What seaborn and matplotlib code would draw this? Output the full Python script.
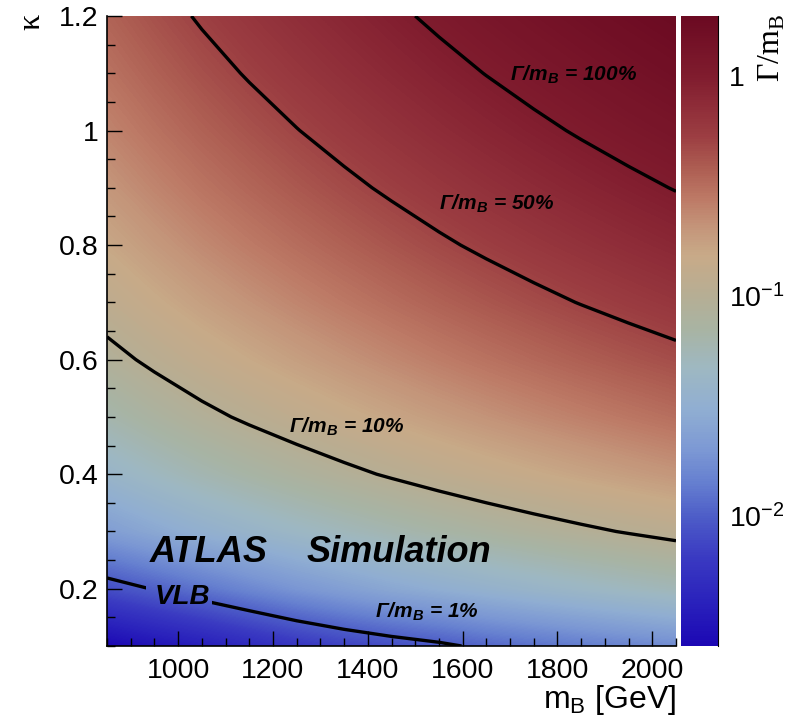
import matplotlib
matplotlib.use("Agg")
import matplotlib.pyplot as plt
import numpy as np
import seaborn as sns
from matplotlib.colors import LinearSegmentedColormap, LogNorm, Normalize
from matplotlib.cm import ScalarMappable
from matplotlib.path import Path
from matplotlib.ticker import MultipleLocator, FixedLocator, FixedFormatter, FuncFormatter, LogLocator, NullFormatter

''' VALUES READ FROM THE PICTURE
Gamma/m_B on a grid of VLB mass (GeV) x kappa
'''
masses = [850, 950, 1050, 1150, 1250, 1350, 1450, 1550, 1650, 1750, 1850, 1950, 2050]
kappas = [0.1, 0.2, 0.3, 0.4, 0.5, 0.6, 0.7, 0.8, 0.9, 1.0, 1.1, 1.2]

w_k01 = [0.002558, 0.003159, 0.003804, 0.004761, 0.005938, 0.007108, 0.0082, 0.00925, 0.01089, 0.01225, 0.01369, 0.01521, 0.01681]
w_k02 = [0.008323, 0.010216, 0.012789, 0.01587, 0.019375, 0.022964, 0.026912, 0.030752, 0.034848, 0.0392, 0.043808, 0.048672, 0.053792]
w_k03 = [0.02211, 0.02705, 0.03255, 0.03833, 0.04458, 0.05134, 0.05866, 0.06660, 0.07498, 0.08379, 0.09302, 0.10267, 0.11271]
w_k04 = [0.03930, 0.04808, 0.05786, 0.06814, 0.07925, 0.09127, 0.10428, 0.11840, 0.13329, 0.14896, 0.16538, 0.18252, 0.20038]
w_k05 = [0.06141, 0.07513, 0.09041, 0.10646, 0.12383, 0.14261, 0.16295, 0.18499, 0.20827, 0.23275, 0.25840, 0.28519, 0.31309]
w_k06 = [0.08843, 0.10819, 0.13018, 0.15331, 0.17831, 0.20536, 0.23464, 0.26639, 0.29991, 0.33516, 0.37210, 0.41067, 0.45085]
w_k07 = [0.12037, 0.14726, 0.17719, 0.20867, 0.24270, 0.27952, 0.31937, 0.36259, 0.40821, 0.45619, 0.50646, 0.55897, 0.61365]
w_k08 = [0.15722, 0.19234, 0.23144, 0.27254, 0.31700, 0.36508, 0.41714, 0.47358, 0.53318, 0.59584, 0.66150, 0.73008, 0.80150]
w_k09 = [0.19898, 0.24343, 0.29291, 0.34494, 0.40120, 0.46206, 0.52794, 0.59938, 0.67480, 0.75411, 0.83722, 0.92401, 1.01440]
w_k10 = [0.24565, 0.30053, 0.36162, 0.42585, 0.49531, 0.57044, 0.65178, 0.73997, 0.83309, 0.93100, 1.03360, 1.14075, 1.25235]
w_k11 = [0.29724, 0.36364, 0.43756, 0.51528, 0.59933, 0.69023, 0.78865, 0.89536, 1.00804, 1.12651, 1.25066, 1.38031, 1.51534]
w_k12 = [0.35374, 0.43276, 0.52073, 0.61322, 0.71325, 0.82143, 0.93856, 1.06556, 1.19965, 1.34064, 1.48838, 1.64268, 1.80338]

contour_levels = [0.01, 0.1, 0.5, 1.0]
contour_labels = ['1%', '10%', '50%', '100%']

''' STYLE
'''
sns.set_style("ticks")
plt.rcParams['font.family'] = ['Liberation Sans', 'DejaVu Sans']
plt.rcParams['mathtext.fontset'] = 'custom'
plt.rcParams['mathtext.rm'] = 'Liberation Sans'
plt.rcParams['mathtext.it'] = 'Liberation Sans:italic'
plt.rcParams['mathtext.bf'] = 'Liberation Sans:bold'
for key in ['text.color', 'axes.labelcolor', 'xtick.color', 'ytick.color', 'axes.edgecolor']:
    plt.rcParams[key] = 'black'

# ROOT-like palette, blue -> tan -> dark red
pal_pos = [0.0, 0.07, 0.14, 0.206, 0.26, 0.31, 0.375, 0.44, 0.50, 0.556,
           0.62, 0.665, 0.71, 0.76, 0.81, 0.86, 0.905, 1.0]
pal_hex = ['#1c08b4', '#2a22bc', '#3a3ac2', '#4e5ec8', '#6680d0', '#7c98d4',
           '#90aed2', '#9eb8c2', '#a8b4a4', '#b6ae94', '#c8aa88', '#c4957a',
           '#bd7a66', '#ad5d52', '#9c3e42', '#8e2c38', '#801c2e', '#6b0a22']
cmap = LinearSegmentedColormap.from_list('width', list(zip(pal_pos, pal_hex)))

df_width = np.array([w_k01, w_k02, w_k03, w_k04, w_k05, w_k06,
                     w_k07, w_k08, w_k09, w_k10, w_k11, w_k12])
logw = np.log10(df_width)
M, K = np.meshgrid(masses, kappas)

fig = plt.figure(figsize=(8.02, 7.21), dpi=100)
ax = fig.add_axes([107/802, 1 - 646/721, 569/802, 630/721])
cax = fig.add_axes([681/802, 1 - 646/721, 37/802, 630/721])

zmin, zmax = 0.00256, 1.88
# smooth map: grid nodes are the pixel centres, bilinear on log values
dm = (masses[1] - masses[0]) / 2
dk = (kappas[1] - kappas[0]) / 2
ax.imshow(logw, origin='lower', aspect='auto', cmap=cmap,
          norm=Normalize(np.log10(zmin), np.log10(zmax)),
          extent=[masses[0] - dm, masses[-1] + dm, kappas[0] - dk, kappas[-1] + dk],
          interpolation='bilinear', interpolation_stage='data')

# contour lines, drawn on log values
cs = ax.contour(M, K, logw, levels=np.log10(contour_levels[1:]), colors='k',
                linewidths=2.4, linestyles='solid')
cs1 = ax.contour(M, K, logw, levels=[np.log10(contour_levels[0])], colors='k',
                 linewidths=2.4, linestyles='solid')
# gap in the 1% line behind the VLB label
box = [(850, 0.1), (2050, 0.1), (2050, 1.2), (850, 1.2), (850, 0.1),
       (932, 0.15), (932, 0.26), (1072, 0.26), (1072, 0.15), (932, 0.15)]
codes = [Path.MOVETO, Path.LINETO, Path.LINETO, Path.LINETO, Path.CLOSEPOLY] * 2
cs1.set_clip_path(Path(box, codes), ax.transData)

ax.set_xlim(850, 2050)
ax.set_ylim(0.1, 1.2)
ax.xaxis.set_major_locator(MultipleLocator(200))
ax.xaxis.set_minor_locator(MultipleLocator(50))
ax.yaxis.set_major_locator(MultipleLocator(0.2))
ax.yaxis.set_minor_locator(MultipleLocator(0.05))
ax.yaxis.set_major_formatter(FuncFormatter(lambda v, p: '%g' % v))
ax.tick_params(which='both', direction='in', top=False, right=False, labelsize=20.5, width=1, color='k')
ax.tick_params(which='major', length=11)
ax.tick_params(which='minor', length=6)
ax.tick_params(axis='x', pad=9)
ax.tick_params(axis='y', pad=6)
sns.despine(ax=ax, top=True, right=True)
for s in ['left', 'bottom']:
    ax.spines[s].set_color('k')
    ax.spines[s].set_linewidth(1.2)
ax.set_xlabel('')
ax.set_ylabel('')

# colour bar
cb = fig.colorbar(ScalarMappable(norm=LogNorm(zmin, zmax), cmap=cmap), cax=cax)
cb.outline.set_visible(False)
cax.yaxis.set_ticks_position('right')
cax.yaxis.set_major_locator(FixedLocator([0.01, 0.1, 1.0]))
cax.yaxis.set_major_formatter(FixedFormatter([r'$\mathregular{10^{-2}}$', r'$\mathregular{10^{-1}}$', '1']))
cax.yaxis.set_minor_locator(LogLocator(base=10, subs=np.arange(2, 10)))
cax.yaxis.set_minor_formatter(NullFormatter())
cax.tick_params(which='both', direction='in', labelsize=20.5, color='k', width=1)
cax.tick_params(which='major', length=10, pad=8)
cax.tick_params(which='minor', length=4)
cax.spines['right'].set_visible(True)
cax.spines['right'].set_color('k')

# texts
def px2data(px, py):
    return 850 + (px - 107) * 1200 / 569, 0.1 + (646 - py) / 630 * 1.1

fig.text(676/802, 1 - 700/721, r'm$_\mathregular{B}$ [GeV]', ha='right', va='center', fontsize=23)
fig.text(32/802, 1 - 14/721, 'κ', rotation=90, ha='center', va='top', fontsize=23,
         family=['Liberation Serif', 'DejaVu Serif'])
fig.text(772/802, 1 - 14/721, r'Γ/m$_\mathregular{B}$', rotation=90, ha='center', va='top', fontsize=23,
         family=['Liberation Serif', 'DejaVu Serif'])

ax.text(*px2data(150, 552), 'ATLAS', fontsize=26, weight='bold', style='italic', va='center', ha='left')
ax.text(*px2data(307, 552), 'Simulation', fontsize=26, weight='bold', style='italic', va='center', ha='left')
ax.text(*px2data(155, 597), 'VLB', fontsize=20, weight='bold', style='italic', va='center', ha='left')

label_xy = [(427, 612), (347, 427), (497, 204), (573, 75)]
for (px, py), lab in zip(label_xy, contour_labels):
    ax.text(*px2data(px, py), r'Γ/m$_\mathregular{B}$ = ' + lab, fontsize=15, weight='bold',
            style='italic', ha='center', va='center')

fig.savefig('out.png', dpi=100)
plt.close()
